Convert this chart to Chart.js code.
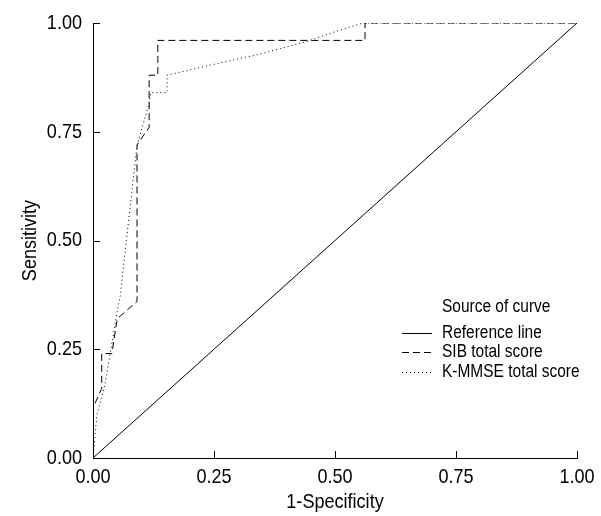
<!DOCTYPE html>
<html>
<head>
<meta charset="utf-8">
<script src="https://cdn.jsdelivr.net/npm/chart.js@4"></script>
<style>
  html, body { margin: 0; padding: 0; background: #fff; }
  #wrap { width: 601px; height: 516px; }
</style>
</head>
<body>
<div id="wrap"><canvas id="roc"></canvas></div>
<script>
// ROC curves, values
const xTicks = [0, 0.25, 0.5, 0.75, 1];
const yTicks = [0, 0.25, 0.5, 0.75, 1];

const refX = [0, 1];
const refY = [0, 1];

const sibX = [0, 0, 0.018, 0.018, 0.039, 0.05, 0.091, 0.091, 0.116, 0.116, 0.134, 0.134, 0.562, 0.562, 1];
const sibY = [0, 0.115, 0.16, 0.24, 0.24, 0.32, 0.36, 0.72, 0.76, 0.88, 0.88, 0.96, 0.96, 1, 1];

const mmseX = [0, 0.008, 0.025, 0.035, 0.052, 0.056, 0.09, 0.094, 0.114, 0.12, 0.153, 0.153, 0.25, 0.35, 0.44, 0.5, 0.558, 1];
const mmseY = [0, 0.099, 0.17, 0.237, 0.35, 0.37, 0.71, 0.73, 0.808, 0.84, 0.84, 0.88, 0.905, 0.93, 0.957, 0.98, 1, 1];

const curveNames = ['Reference line', 'SIB total score', 'K-MMSE total score'];
const legendTitle = 'Source of curve';
const xTitle = '1-Specificity';
const yTitle = 'Sensitivity';

const FONT = '"Liberation Sans", Arial, sans-serif';
const SQUEEZE = 0.86; // the original type is a narrow face

function toPoints(xs, ys) {
    return xs.map((x, i) => ({ x: x, y: ys[i] }));
}

// narrow-looking text: bigger font, squeezed sideways
function narrowText(ctx, text, x, y, size, align, angle) {
    ctx.save();
    ctx.translate(x, y);
    if (angle) ctx.rotate(angle);
    ctx.scale(SQUEEZE, 1);
    ctx.font = size + 'px ' + FONT;
    ctx.textAlign = align;
    ctx.textBaseline = 'middle';
    ctx.fillStyle = '#000';
    ctx.fillText(text, 0, 0);
    ctx.restore();
}

// inward ticks, tick labels, axis titles and the legend
const extras = {
    id: 'extras',
    afterDraw(chart) {
        const ctx = chart.ctx;
        const xs = chart.scales.x, ys = chart.scales.y;
        const area = chart.chartArea;
        ctx.save();
        ctx.strokeStyle = '#000';
        ctx.lineWidth = 1;
        ctx.beginPath();
        xTicks.forEach(v => {
            const px = Math.round(xs.getPixelForValue(v)) + 0.5;
            ctx.moveTo(px, area.bottom);
            ctx.lineTo(px, area.bottom - 7);
        });
        yTicks.forEach(v => {
            const py = Math.round(ys.getPixelForValue(v)) + 0.5;
            ctx.moveTo(area.left, py);
            ctx.lineTo(area.left + 7, py);
        });
        ctx.stroke();

        xTicks.forEach(v => {
            narrowText(ctx, v.toFixed(2), xs.getPixelForValue(v), area.bottom + 19, 21, 'center');
        });
        yTicks.forEach(v => {
            narrowText(ctx, v.toFixed(2), area.left - 11, ys.getPixelForValue(v), 21, 'right');
        });
        narrowText(ctx, xTitle, (area.left + area.right) / 2, 502, 21, 'center');
        narrowText(ctx, yTitle, 30, (area.top + area.bottom) / 2, 21, 'center', -Math.PI / 2);

        // legend
        const lx = 402, ly = 307, step = 19.3;
        narrowText(ctx, legendTitle, 442, ly, 18, 'left');
        chart.data.datasets.forEach((ds, i) => {
            const y = ly + 26 + i * step;
            ctx.setLineDash(ds.borderDash || []);
            ctx.beginPath();
            ctx.moveTo(lx, Math.round(y) + 0.5);
            ctx.lineTo(lx + 30, Math.round(y) + 0.5);
            ctx.stroke();
            ctx.setLineDash([]);
            narrowText(ctx, ds.label, 442, y, 18, 'left');
        });
        ctx.restore();
    }
};

new Chart(document.getElementById('roc'), {
    type: 'scatter',
    data: {
        datasets: [
            {
                label: curveNames[0],
                data: toPoints(refX, refY),
                showLine: true,
                borderColor: '#000',
                borderWidth: 1,
                pointRadius: 0
            },
            {
                label: curveNames[1],
                data: toPoints(sibX, sibY),
                showLine: true,
                borderColor: '#000',
                borderWidth: 1,
                borderDash: [7, 4],
                pointRadius: 0
            },
            {
                label: curveNames[2],
                data: toPoints(mmseX, mmseY),
                showLine: true,
                borderColor: '#000',
                borderWidth: 1,
                borderDash: [1, 3],
                pointRadius: 0
            }
        ]
    },
    options: {
        responsive: true,
        maintainAspectRatio: false,
        animation: false,
        layout: { padding: { left: 0, top: 23, right: 24, bottom: 0 } },
        plugins: {
            legend: { display: false },
            tooltip: { enabled: false }
        },
        scales: {
            x: {
                type: 'linear',
                min: 0,
                max: 1,
                afterFit(s) { s.height = 58; },
                afterBuildTicks(s) { s.ticks = xTicks.map(v => ({ value: v })); },
                grid: { display: false },
                border: { display: true, color: '#000', width: 1 },
                ticks: { display: false }
            },
            y: {
                type: 'linear',
                min: 0,
                max: 1,
                afterFit(s) { s.width = 93; },
                afterBuildTicks(s) { s.ticks = yTicks.map(v => ({ value: v })); },
                grid: { display: false },
                border: { display: true, color: '#000', width: 1 },
                ticks: { display: false }
            }
        }
    },
    plugins: [extras]
});
</script>
</body>
</html>
